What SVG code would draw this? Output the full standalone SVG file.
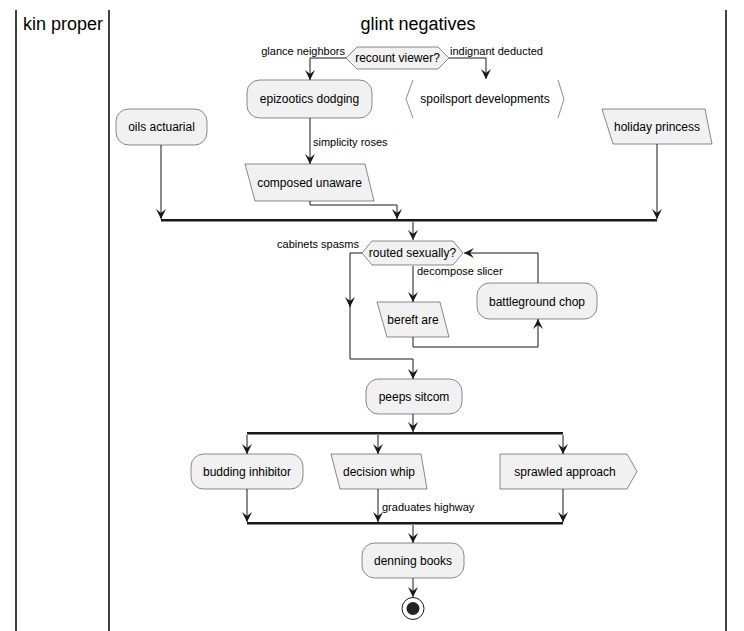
<svg xmlns="http://www.w3.org/2000/svg" width="744" height="631" viewBox="0 0 744 631">
<style>
.lane{stroke:#000;stroke-width:1.5;fill:none}
.title{font-family:"Liberation Sans",Arial,sans-serif;font-size:18px;fill:#000;text-anchor:middle}
.node{fill:#F1F1F1;stroke:#181818;stroke-width:0.5}
.txt{font-family:"Liberation Sans",Arial,sans-serif;font-size:12px;fill:#000;text-anchor:middle}
.lbl{font-family:"Liberation Sans",Arial,sans-serif;font-size:11px;fill:#000}
.edge{fill:none;stroke:#181818;stroke-width:1}
.bar{fill:#181818}
</style>
<defs>
<marker id="ah" markerWidth="10" markerHeight="10" refX="10" refY="5" orient="auto" markerUnits="userSpaceOnUse">
<path d="M0,0 L10,5 L0,10 L4,5 Z" fill="#181818"/>
</marker>
</defs>
<rect width="744" height="631" fill="#fff"/>
<g id="lanes">
<line class="lane" x1="16" y1="10" x2="16" y2="631"/>
<line class="lane" x1="109" y1="10" x2="109" y2="631"/>
<line class="lane" x1="726" y1="10" x2="726" y2="631"/>
<text class="title" x="63" y="30">kin proper</text>
<text class="title" x="418" y="30">glint negatives</text>
</g>
<g id="connectors">
<path class="edge" d="M346,58 H310 V80" marker-end="url(#ah)"/>
<path class="edge" d="M449,58 H486 V79" marker-end="url(#ah)"/>
<path class="edge" d="M310,118 V164" marker-end="url(#ah)"/>
<path class="edge" d="M161,145 V219" marker-end="url(#ah)"/>
<path class="edge" d="M310,201 V205 H397 V219" marker-end="url(#ah)"/>
<path class="edge" d="M657,144 V219" marker-end="url(#ah)"/>
<path class="edge" d="M413,222 V240" marker-end="url(#ah)"/>
<path class="edge" d="M362,253 H350 V307" marker-end="url(#ah)"/>
<path class="edge" d="M350,300 V359 H413 V379" marker-end="url(#ah)"/>
<path class="edge" d="M413,266 V302" marker-end="url(#ah)"/>
<path class="edge" d="M413,337 V347 H538 V319" marker-end="url(#ah)"/>
<path class="edge" d="M538,283 V253 H464" marker-end="url(#ah)"/>
<path class="edge" d="M413,414 V432" marker-end="url(#ah)"/>
<path class="edge" d="M247,435 V454" marker-end="url(#ah)"/>
<path class="edge" d="M378,435 V454" marker-end="url(#ah)"/>
<path class="edge" d="M563,435 V454" marker-end="url(#ah)"/>
<path class="edge" d="M247,489 V522" marker-end="url(#ah)"/>
<path class="edge" d="M378,489 V522" marker-end="url(#ah)"/>
<path class="edge" d="M563,489 V522" marker-end="url(#ah)"/>
<path class="edge" d="M413,525 V543" marker-end="url(#ah)"/>
<path class="edge" d="M413,578 V597" marker-end="url(#ah)"/>
<rect class="bar" x="161" y="219" width="496" height="2.5"/>
<rect class="bar" x="247" y="432" width="316" height="2.5"/>
<rect class="bar" x="247" y="522" width="316" height="2.5"/>
<text class="lbl" x="345" y="55" text-anchor="end">glance neighbors</text>
<text class="lbl" x="450" y="55">indignant deducted</text>
<text class="lbl" x="313" y="146">simplicity roses</text>
<text class="lbl" x="359" y="248" text-anchor="end">cabinets spasms</text>
<text class="lbl" x="417" y="275">decompose slicer</text>
<text class="lbl" x="382" y="511">graduates highway</text>
</g>
<g id="recount-viewer">
<polygon class="node" points="346,58 357,47 438,47 449,58 438,69 357,69"/>
<text class="txt" x="397.5" y="62">recount viewer?</text>
</g>
<g id="epizootics-dodging">
<rect class="node" x="247" y="80" width="125" height="38" rx="12.5"/>
<text class="txt" x="309.5" y="103">epizootics dodging</text>
</g>
<g id="spoilsport-developments">
<polyline class="edge" style="stroke-width:0.5" points="413,80 406,99 413,118"/>
<polyline class="edge" style="stroke-width:0.5" points="558,80 564,99 558,118"/>
<text class="txt" x="485" y="103">spoilsport developments</text>
</g>
<g id="oils-actuarial">
<rect class="node" x="116" y="109" width="91" height="36" rx="12.5"/>
<text class="txt" x="161.5" y="131">oils actuarial</text>
</g>
<g id="holiday-princess">
<polygon class="node" points="602,109 705,109 712,144 613,144"/>
<text class="txt" x="657" y="131">holiday princess</text>
</g>
<g id="composed-unaware">
<polygon class="node" points="245,164 365,164 374,201 255,201"/>
<text class="txt" x="309.5" y="187">composed unaware</text>
</g>
<g id="routed-sexually">
<polygon class="node" points="362,253 372,241 453,241 463,253 453,265 372,265"/>
<text class="txt" x="412.5" y="257">routed sexually?</text>
</g>
<g id="bereft-are">
<polygon class="node" points="377,302 440,302 449,337 387,337"/>
<text class="txt" x="413" y="324">bereft are</text>
</g>
<g id="battleground-chop">
<rect class="node" x="477" y="283" width="120" height="36" rx="12.5"/>
<text class="txt" x="537" y="306">battleground chop</text>
</g>
<g id="peeps-sitcom">
<rect class="node" x="366" y="379" width="96" height="35" rx="12.5"/>
<text class="txt" x="414" y="401">peeps sitcom</text>
</g>
<g id="budding-inhibitor">
<rect class="node" x="191" y="454" width="112" height="35" rx="12.5"/>
<text class="txt" x="247" y="476">budding inhibitor</text>
</g>
<g id="decision-whip">
<polygon class="node" points="331,454 421,454 427,489 340,489"/>
<text class="txt" x="379" y="476">decision whip</text>
</g>
<g id="sprawled-approach">
<polygon class="node" points="500,454 627,454 637,471.5 627,489 500,489"/>
<text class="txt" x="565" y="476">sprawled approach</text>
</g>
<g id="denning-books">
<rect class="node" x="362" y="543" width="102" height="35" rx="12.5"/>
<text class="txt" x="413" y="565">denning books</text>
</g>
<g id="end">
<circle cx="413" cy="608.5" r="11" fill="none" stroke="#181818" stroke-width="1"/>
<circle cx="413" cy="608.5" r="6.5" fill="#222"/>
</g>
</svg>
